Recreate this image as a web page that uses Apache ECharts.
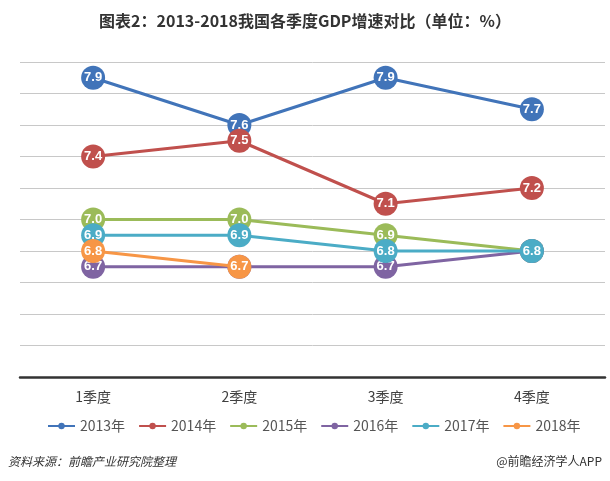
<!DOCTYPE html>
<html><head><meta charset="utf-8">
<script src="https://cdn.jsdelivr.net/npm/echarts@6/dist/echarts.min.js"></script>
<style>html,body{margin:0;padding:0;background:#fff}#c{width:610px;height:481px}</style>
</head><body><div id="c"></div>
<script>
const categories = ['1季度','2季度','3季度','4季度'];
const seriesNames = ['2013年','2014年','2015年','2016年','2017年','2018年'];
const v2013 = [7.9, 7.6, 7.9, 7.7];
const v2014 = [7.4, 7.5, 7.1, 7.2];
const v2015 = [7.0, 7.0, 6.9, 6.8];
const v2016 = [6.7, 6.7, 6.7, 6.8];
const v2017 = [6.9, 6.9, 6.8, 6.8];
const v2018 = [6.8, 6.7];
const colors = ['#4174B9','#C0504D','#9BBB59','#7F64A2','#4BACC6','#F79646'];
const values = [v2013, v2014, v2015, v2016, v2017, v2018];

const chart = echarts.init(document.getElementById('c'), null, {renderer:'canvas'});
const font = "'Microsoft YaHei','Noto Sans CJK SC',sans-serif";
chart.setOption({
  backgroundColor:'#fff',
  animation:false,
  title:{text:'图表2：2013-2018我国各季度GDP增速对比（单位：%）',left:'center',top:8,
    textStyle:{fontSize:16,fontWeight:'bold',color:'#333',fontFamily:font}},
  grid:{left:20,right:5,top:62,bottom:104,containLabel:false},
  legend:{data:seriesNames,top:414,left:42,itemWidth:27,itemHeight:8,itemGap:13,
    textStyle:{fontSize:14,color:'#555',fontFamily:font}},
  xAxis:{type:'category',data:categories,boundaryGap:true,
    axisLine:{lineStyle:{color:'#333',width:2.5}},axisTick:{show:false},
    axisLabel:{fontSize:14,color:'#404040',margin:13,fontFamily:font}},
  yAxis:{type:'value',min:6.0,max:8.0,interval:0.2,
    axisLabel:{show:false},axisLine:{show:false},axisTick:{show:false},
    splitLine:{lineStyle:{color:'#C8C8C8',width:1}}},
  series: values.map((d,i)=>({
    name:seriesNames[i],type:'line',data:d,
    symbol:'circle',symbolSize:24,
    lineStyle:{width:3,color:colors[i]},
    itemStyle:{color:colors[i]},
    label:{show:true,position:'inside',color:'#fff',fontWeight:'bold',fontSize:13,
      fontFamily:'Arial, Liberation Sans, sans-serif',formatter:p=>p.value.toFixed(1)},
    z:2+i
  })),
  graphic:[
    {type:'text',left:8,top:455,style:{text:'资料来源：前瞻产业研究院整理',fill:'#333',font:"italic 12px 'Noto Sans CJK SC',sans-serif"}},
    {type:'text',right:8,top:455,style:{text:'@前瞻经济学人APP',fill:'#333',font:"12px 'Noto Sans CJK SC',sans-serif"}}
  ]
});
</script></body></html>
